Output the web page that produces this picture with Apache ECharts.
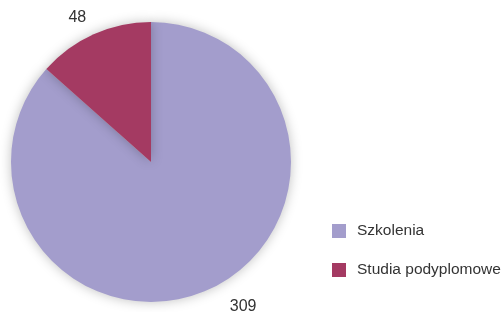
<!DOCTYPE html>
<html>
<head>
<meta charset="UTF-8">
<title>Pie</title>
<script type="text/javascript" src="https://cdn.jsdelivr.net/npm/echarts@6/dist/echarts.min.js"></script>
<style>
body { margin: 0; background: #fff; }
#main { width: 501px; height: 312px; }
</style>
</head>
<body>
<div id="main"></div>
<script type="text/javascript">
// data
var names = ['Szkolenia', 'Studia podyplomowe'];
var values = [309, 48];
var colors = ['#a39dcc', '#a43a62'];

var font = '"Liberation Sans", Arial, sans-serif';

var chart = echarts.init(document.getElementById('main'));

var data = names.map(function (n, i) {
	return {
		name: n,
		value: values[i],
		itemStyle: { color: colors[i] },
		labelLine: { show: false, length: 18, length2: i === 0 ? 14 : 0 }
	};
});

chart.setOption({
	animation: false,
	legend: {
		orient: 'vertical',
		left: 327,
		top: 218,
		itemWidth: 14,
		itemHeight: 14,
		itemGap: 23,
		icon: 'rect',
		data: names,
		textStyle: { fontFamily: font, fontSize: 15.5, color: '#333', padding: [0, 0, 0, 6] }
	},
	series: [{
		type: 'pie',
		center: [151, 162],
		radius: 140,
		startAngle: 90,
		clockwise: true,
		data: data,
		label: {
			show: true,
			position: 'outside',
			formatter: '{c}',
			fontFamily: font,
			fontSize: 16,
			color: '#333',
			distanceToLabelLine: 0
		},
		labelLine: { show: false },
		itemStyle: {
			shadowBlur: 12,
			shadowColor: 'rgba(0,0,0,0.25)'
		},
		emphasis: { disabled: true }
	}]
});
</script>
</body>
</html>
